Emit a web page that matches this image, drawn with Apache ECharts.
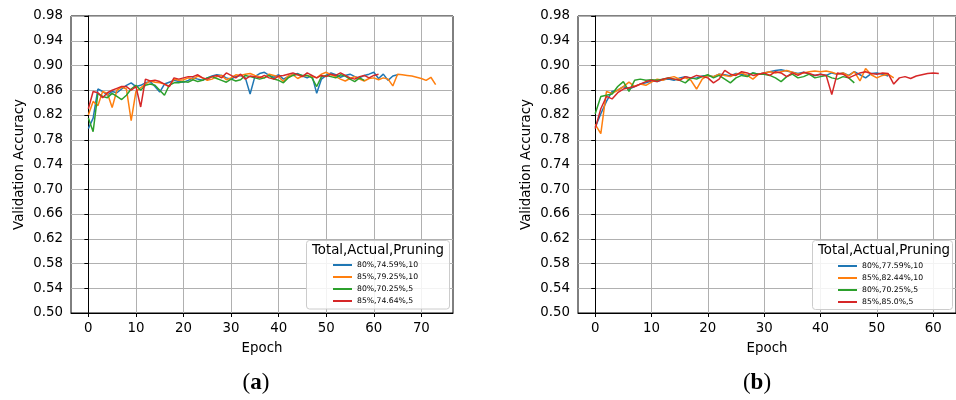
<!DOCTYPE html>
<html>
<head>
<meta charset="utf-8">
<script src="https://cdn.jsdelivr.net/npm/echarts@6/dist/echarts.min.js"></script>
<style>
  html, body { margin: 0; padding: 0; background: #fff; }
  #chart { width: 956px; height: 400px; }
</style>
</head>
<body>
<div id="chart"></div>
<script>
// tick labels
var yTicks = [0.50, 0.54, 0.58, 0.62, 0.66, 0.70, 0.74, 0.78, 0.82, 0.86, 0.90, 0.94, 0.98];
var xTicksA = [0, 10, 20, 30, 40, 50, 60, 70];
var xTicksB = [0, 10, 20, 30, 40, 50, 60];

// panel (a)
var namesA = ['80%,74.59%,10', '85%,79.25%,10', '80%,70.25%,5', '85%,74.64%,5'];
var blueA = [0.798, 0.815, 0.862, 0.858, 0.852, 0.858, 0.856, 0.862, 0.868, 0.872,
    0.866, 0.868, 0.872, 0.874, 0.866, 0.857, 0.870, 0.873, 0.876, 0.874,
    0.873, 0.876, 0.880, 0.878, 0.876, 0.880, 0.883, 0.885, 0.884, 0.880,
    0.878, 0.882, 0.884, 0.880, 0.854, 0.882, 0.887, 0.889, 0.884, 0.881,
    0.885, 0.878, 0.882, 0.885, 0.887, 0.883, 0.880, 0.884, 0.855, 0.878,
    0.884, 0.888, 0.885, 0.881, 0.884, 0.886, 0.882, 0.880, 0.884, 0.886,
    0.889, 0.879, 0.886, 0.876, 0.883, 0.885];
var orangeA = [0.820, 0.842, 0.835, 0.858, 0.855, 0.832, 0.860, 0.865, 0.862, 0.811,
    0.858, 0.864, 0.870, 0.875, 0.873, 0.872, 0.870, 0.866, 0.878, 0.876,
    0.877, 0.880, 0.878, 0.883, 0.880, 0.876, 0.878, 0.882, 0.884, 0.877,
    0.880, 0.885, 0.884, 0.886, 0.887, 0.884, 0.882, 0.880, 0.886, 0.884,
    0.882, 0.874, 0.883, 0.885, 0.879, 0.883, 0.884, 0.882, 0.880, 0.886,
    0.889, 0.885, 0.882, 0.878, 0.875, 0.879, 0.882, 0.878, 0.875, 0.879,
    0.880, 0.877, 0.880, 0.878, 0.867, 0.886, 0.885, 0.884, 0.883, 0.881,
    0.879, 0.876, 0.881, 0.869];
var greenA = [0.815, 0.793, 0.855, 0.850, 0.848, 0.855, 0.850, 0.845, 0.852, 0.862,
    0.868, 0.860, 0.868, 0.870, 0.868, 0.860, 0.852, 0.868, 0.872, 0.872,
    0.874, 0.873, 0.877, 0.874, 0.876, 0.880, 0.882, 0.879, 0.876, 0.873,
    0.878, 0.875, 0.877, 0.884, 0.882, 0.880, 0.878, 0.880, 0.884, 0.878,
    0.876, 0.872, 0.880, 0.884, 0.886, 0.884, 0.884, 0.880, 0.866, 0.882,
    0.884, 0.882, 0.880, 0.885, 0.883, 0.878, 0.874, 0.880, 0.876];
var redA = [0.830, 0.858, 0.856, 0.848, 0.856, 0.860, 0.863, 0.866, 0.866, 0.860,
    0.866, 0.833, 0.878, 0.875, 0.876, 0.874, 0.870, 0.866, 0.880, 0.878,
    0.880, 0.882, 0.882, 0.885, 0.880, 0.878, 0.882, 0.884, 0.880, 0.888,
    0.884, 0.880, 0.886, 0.878, 0.883, 0.882, 0.880, 0.884, 0.880, 0.878,
    0.883, 0.884, 0.886, 0.888, 0.885, 0.882, 0.888, 0.884, 0.880, 0.884,
    0.882, 0.886, 0.884, 0.888, 0.884, 0.880, 0.878, 0.882, 0.884, 0.880,
    0.884, 0.886];

// panel (b)
var namesB = ['80%,77.59%,10', '85%,82.44%,10', '80%,70.25%,5', '85%,85.0%,5'];
var blueB = [0.800, 0.822, 0.842, 0.858, 0.860, 0.866, 0.862, 0.866, 0.870, 0.872,
    0.875, 0.874, 0.877, 0.878, 0.876, 0.880, 0.882, 0.879, 0.880, 0.883,
    0.884, 0.882, 0.886, 0.885, 0.883, 0.887, 0.886, 0.884, 0.888, 0.886,
    0.888, 0.890, 0.892, 0.893, 0.891, 0.889, 0.887, 0.889, 0.886, 0.884,
    0.886, 0.884, 0.888, 0.886, 0.888, 0.884, 0.890, 0.885, 0.880, 0.887,
    0.888, 0.886, 0.883];
var orangeB = [0.805, 0.790, 0.858, 0.855, 0.860, 0.866, 0.873, 0.866, 0.870, 0.868,
    0.873, 0.878, 0.876, 0.880, 0.882, 0.878, 0.880, 0.876, 0.862, 0.878,
    0.884, 0.882, 0.886, 0.884, 0.882, 0.886, 0.888, 0.884, 0.878, 0.886,
    0.888, 0.890, 0.888, 0.890, 0.892, 0.889, 0.886, 0.888, 0.890, 0.891,
    0.890, 0.891, 0.889, 0.886, 0.888, 0.883, 0.890, 0.875, 0.895, 0.885,
    0.880, 0.884, 0.886, 0.880];
var greenB = [0.822, 0.850, 0.852, 0.854, 0.866, 0.874, 0.858, 0.876, 0.878, 0.876,
    0.877, 0.876, 0.878, 0.880, 0.878, 0.876, 0.872, 0.880, 0.878, 0.882,
    0.885, 0.880, 0.884, 0.878, 0.872, 0.880, 0.884, 0.882, 0.888, 0.886,
    0.886, 0.884, 0.880, 0.874, 0.882, 0.886, 0.880, 0.882, 0.886, 0.880,
    0.882, 0.884, 0.880, 0.878, 0.882, 0.880, 0.872];
var redB = [0.798, 0.830, 0.850, 0.846, 0.856, 0.862, 0.864, 0.866, 0.870, 0.874,
    0.876, 0.874, 0.878, 0.880, 0.878, 0.876, 0.882, 0.880, 0.884, 0.882,
    0.880, 0.872, 0.878, 0.892, 0.886, 0.884, 0.890, 0.888, 0.884, 0.886,
    0.888, 0.884, 0.890, 0.888, 0.882, 0.888, 0.884, 0.889, 0.887, 0.884,
    0.886, 0.884, 0.853, 0.888, 0.886, 0.880, 0.884, 0.888, 0.890, 0.887,
    0.886, 0.888, 0.887, 0.870, 0.880, 0.882, 0.879, 0.883, 0.885, 0.887,
    0.888, 0.887];

var colors = ['#1f77b4', '#ff7f0e', '#2ca02c', '#d62728'];
var font = 'DejaVu Sans';

var myChart = echarts.init(document.getElementById('chart'));

function pairs(arr) {
    return arr.map(function(v, i){ return [i, v]; });
}

function xAxisFor(idx, ticks, min, max) {
    return {
        type: 'value', gridIndex: idx, min: min, max: max,
        name: 'Epoch', nameLocation: 'middle', nameGap: 29,
        nameTextStyle: { fontFamily: font, fontSize: 13.33, color: '#000' },
        axisLine: { show: true, lineStyle: { color: '#000', width: 1 } },
        axisTick: { show: true, length: 4, customValues: ticks, lineStyle: { color: '#000' } },
        axisLabel: { customValues: ticks, margin: 9, fontFamily: font, fontSize: 13.33, color: '#000' },
        splitLine: { show: true, lineStyle: { color: '#b0b0b0', width: 1 } }
    };
}

function yAxisFor(idx) {
    return {
        type: 'value', gridIndex: idx, min: 0.50, max: 0.98,
        name: 'Validation Accuracy', nameLocation: 'middle', nameGap: 45,
        nameTextStyle: { fontFamily: font, fontSize: 13.33, color: '#000' },
        axisLine: { show: true, lineStyle: { color: '#000', width: 1 } },
        axisTick: { show: true, length: 4, customValues: yTicks, lineStyle: { color: '#000' } },
        axisLabel: {
            customValues: yTicks, margin: 8, fontFamily: font, fontSize: 13.33, color: '#000',
            formatter: function(v){ return v.toFixed(2); }
        },
        splitLine: { show: true, lineStyle: { color: '#b0b0b0', width: 1 } }
    };
}

function lineSeries(name, data, k, axis) {
    return {
        name: name, type: 'line', xAxisIndex: axis, yAxisIndex: axis,
        data: pairs(data), showSymbol: false, symbol: 'none',
        lineStyle: { color: colors[k], width: 1.5 },
        itemStyle: { color: colors[k] },
        z: 3 + k
    };
}

function legendFor(names, left, top) {
    return {
        data: names, orient: 'vertical', left: left, top: top,
        icon: 'rect', itemWidth: 19, itemHeight: 2, itemGap: 2, padding: 0,
        selectedMode: false, z: 30,
        textStyle: { fontFamily: font, fontSize: 7.7, lineHeight: 10, color: '#000' }
    };
}

var option = {
    animation: false,
    backgroundColor: '#fff',
    grid: [
        { left: 71, top: 16, width: 382, height: 297, show: true, borderColor: '#000', borderWidth: 1, backgroundColor: 'transparent' },
        { left: 578, top: 16, width: 382, height: 297, show: true, borderColor: '#000', borderWidth: 1, backgroundColor: 'transparent' }
    ],
    xAxis: [
        xAxisFor(0, xTicksA, -3.65, 76.65),
        xAxisFor(1, xTicksB, -3.05, 64.05)
    ],
    yAxis: [yAxisFor(0), yAxisFor(1)],
    legend: [
        legendFor(namesA, 333, 260),
        legendFor(namesB, 838, 261)
    ],
    graphic: [
        { type: 'rect', z: 20, shape: { x: 306.5, y: 240.5, width: 143, height: 68.5, r: 3 },
          style: { fill: 'rgba(255,255,255,0.85)', stroke: '#cccccc', lineWidth: 1 } },
        { type: 'text', z: 21, x: 378, y: 251,
          style: { text: 'Total,Actual,Pruning', fontFamily: font, fontSize: 13.33, fill: '#000', align: 'center', verticalAlign: 'middle' } },
        { type: 'rect', z: 20, shape: { x: 812.5, y: 240.5, width: 140, height: 69, r: 3 },
          style: { fill: 'rgba(255,255,255,0.85)', stroke: '#cccccc', lineWidth: 1 } },
        { type: 'text', z: 21, x: 884, y: 251,
          style: { text: 'Total,Actual,Pruning', fontFamily: font, fontSize: 13.33, fill: '#000', align: 'center', verticalAlign: 'middle' } },
        { type: 'text', z: 21, x: 256, y: 383,
          style: { text: '({b|a})', fontFamily: 'Liberation Serif', fontSize: 23, fill: '#000', align: 'center', verticalAlign: 'middle',
                   rich: { b: { fontFamily: 'Liberation Serif', fontSize: 23, fontWeight: 'bold' } } } },
        { type: 'text', z: 21, x: 757, y: 383,
          style: { text: '({b|b})', fontFamily: 'Liberation Serif', fontSize: 23, fill: '#000', align: 'center', verticalAlign: 'middle',
                   rich: { b: { fontFamily: 'Liberation Serif', fontSize: 23, fontWeight: 'bold' } } } }
    ],
    series: [
        lineSeries(namesA[0], blueA, 0, 0),
        lineSeries(namesA[1], orangeA, 1, 0),
        lineSeries(namesA[2], greenA, 2, 0),
        lineSeries(namesA[3], redA, 3, 0),
        lineSeries(namesB[0], blueB, 0, 1),
        lineSeries(namesB[1], orangeB, 1, 1),
        lineSeries(namesB[2], greenB, 2, 1),
        lineSeries(namesB[3], redB, 3, 1)
    ]
};

myChart.setOption(option);
</script>
</body>
</html>
